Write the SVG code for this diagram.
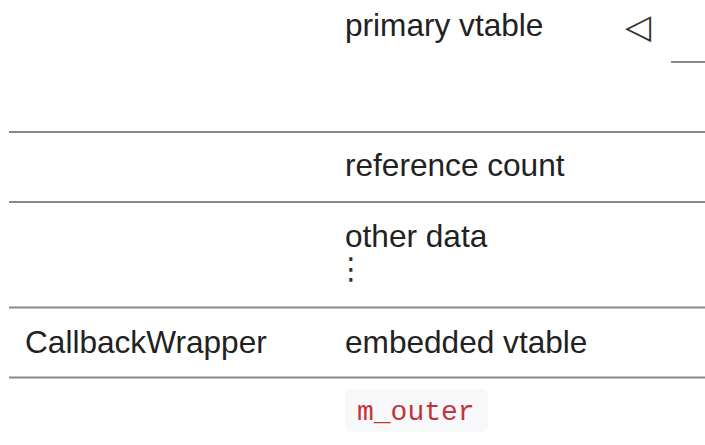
<svg xmlns="http://www.w3.org/2000/svg" width="705" height="445" viewBox="0 0 705 445">
<style>
.t{font-family:"Liberation Sans",Arial,sans-serif;font-size:31.6px;fill:#222}
.rule{stroke:#888;stroke-width:2}
.code{font-family:"Liberation Mono","Courier New",monospace;font-size:28px;fill:#c4343c}
.sym{font-family:"DejaVu Sans",sans-serif;fill:#333}
</style>
<rect width="705" height="445" fill="#fff"/>
<g id="connectors">
<line class="rule" x1="671" y1="62" x2="705" y2="62"/>
</g>
<g id="rules">
<line class="rule" x1="9" y1="132" x2="705" y2="132"/>
<line class="rule" x1="9" y1="202" x2="705" y2="202"/>
<line class="rule" x1="9" y1="307.5" x2="705" y2="307.5"/>
<line class="rule" x1="9" y1="377.5" x2="705" y2="377.5"/>
</g>
<g id="primary-vtable">
<text class="t" x="345" y="36">primary vtable</text>
<text class="sym" x="625" y="38" font-size="34">◁</text>
</g>
<g id="reference-count">
<text class="t" x="345" y="176">reference count</text>
</g>
<g id="other-data">
<text class="t" x="345" y="246.5">other data</text>
<text class="sym" x="336" y="279" font-size="30">⋮</text>
</g>
<g id="callback-wrapper">
<text class="t" x="25" y="352.5">CallbackWrapper</text>
</g>
<g id="embedded-vtable">
<text class="t" x="345" y="352.5">embedded vtable</text>
</g>
<g id="m-outer">
<rect x="345" y="389" width="143" height="43" rx="5" fill="#f6f8fa"/>
<text class="code" x="357" y="420">m_outer</text>
</g>
</svg>
